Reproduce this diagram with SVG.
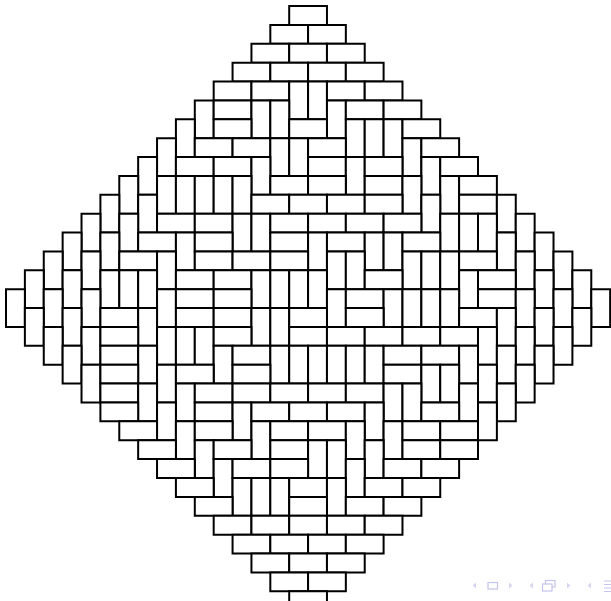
<svg xmlns="http://www.w3.org/2000/svg" xmlns:xlink="http://www.w3.org/1999/xlink" width="611" height="601" viewBox="0 0 611 601">
<defs>
<rect id="h" width="2" height="1" fill="#fff" stroke="#000" stroke-width="2" vector-effect="non-scaling-stroke"/>
<rect id="v" width="1" height="2" fill="#fff" stroke="#000" stroke-width="2" vector-effect="non-scaling-stroke"/>
</defs>
<rect width="611" height="601" fill="#fff"/>
<g id="tiling" transform="translate(6 6) scale(18.88)">
<use href="#h" x="15" y="0"/>
<use href="#h" x="14" y="1"/><use href="#h" x="16" y="1"/>
<use href="#h" x="13" y="2"/><use href="#h" x="15" y="2"/><use href="#h" x="17" y="2"/>
<use href="#h" x="12" y="3"/><use href="#h" x="14" y="3"/><use href="#h" x="16" y="3"/><use href="#h" x="18" y="3"/>
<use href="#h" x="11" y="4"/><use href="#h" x="13" y="4"/><use href="#v" x="15" y="4"/><use href="#v" x="16" y="4"/><use href="#h" x="17" y="4"/><use href="#h" x="19" y="4"/>
<use href="#v" x="10" y="5"/><use href="#h" x="11" y="5"/><use href="#v" x="13" y="5"/><use href="#v" x="14" y="5"/><use href="#v" x="17" y="5"/><use href="#h" x="18" y="5"/><use href="#h" x="20" y="5"/>
<use href="#v" x="9" y="6"/><use href="#h" x="11" y="6"/><use href="#h" x="15" y="6"/><use href="#v" x="18" y="6"/><use href="#v" x="19" y="6"/><use href="#v" x="20" y="6"/><use href="#h" x="21" y="6"/>
<use href="#v" x="8" y="7"/><use href="#h" x="10" y="7"/><use href="#h" x="12" y="7"/><use href="#v" x="14" y="7"/><use href="#v" x="15" y="7"/><use href="#h" x="16" y="7"/><use href="#v" x="21" y="7"/><use href="#h" x="22" y="7"/>
<use href="#v" x="7" y="8"/><use href="#h" x="9" y="8"/><use href="#h" x="11" y="8"/><use href="#v" x="13" y="8"/><use href="#h" x="16" y="8"/><use href="#v" x="18" y="8"/><use href="#h" x="19" y="8"/><use href="#v" x="22" y="8"/><use href="#h" x="23" y="8"/>
<use href="#v" x="6" y="9"/><use href="#v" x="8" y="9"/><use href="#v" x="9" y="9"/><use href="#v" x="10" y="9"/><use href="#v" x="11" y="9"/><use href="#v" x="12" y="9"/><use href="#h" x="14" y="9"/><use href="#h" x="16" y="9"/><use href="#h" x="19" y="9"/><use href="#v" x="21" y="9"/><use href="#v" x="23" y="9"/><use href="#h" x="24" y="9"/>
<use href="#v" x="5" y="10"/><use href="#v" x="7" y="10"/><use href="#h" x="13" y="10"/><use href="#h" x="15" y="10"/><use href="#h" x="17" y="10"/><use href="#h" x="19" y="10"/><use href="#v" x="22" y="10"/><use href="#h" x="24" y="10"/><use href="#v" x="26" y="10"/>
<use href="#v" x="4" y="11"/><use href="#v" x="6" y="11"/><use href="#h" x="8" y="11"/><use href="#h" x="10" y="11"/><use href="#v" x="12" y="11"/><use href="#v" x="13" y="11"/><use href="#h" x="14" y="11"/><use href="#h" x="16" y="11"/><use href="#h" x="18" y="11"/><use href="#h" x="20" y="11"/><use href="#v" x="23" y="11"/><use href="#v" x="24" y="11"/><use href="#v" x="25" y="11"/><use href="#v" x="27" y="11"/>
<use href="#v" x="3" y="12"/><use href="#v" x="5" y="12"/><use href="#h" x="7" y="12"/><use href="#v" x="9" y="12"/><use href="#h" x="10" y="12"/><use href="#h" x="14" y="12"/><use href="#v" x="16" y="12"/><use href="#h" x="17" y="12"/><use href="#v" x="19" y="12"/><use href="#v" x="20" y="12"/><use href="#h" x="21" y="12"/><use href="#v" x="26" y="12"/><use href="#v" x="28" y="12"/>
<use href="#v" x="2" y="13"/><use href="#v" x="4" y="13"/><use href="#h" x="6" y="13"/><use href="#v" x="8" y="13"/><use href="#h" x="10" y="13"/><use href="#h" x="12" y="13"/><use href="#h" x="14" y="13"/><use href="#v" x="17" y="13"/><use href="#v" x="18" y="13"/><use href="#v" x="21" y="13"/><use href="#v" x="22" y="13"/><use href="#v" x="23" y="13"/><use href="#h" x="24" y="13"/><use href="#v" x="27" y="13"/><use href="#v" x="29" y="13"/>
<use href="#v" x="1" y="14"/><use href="#v" x="3" y="14"/><use href="#v" x="5" y="14"/><use href="#v" x="6" y="14"/><use href="#v" x="7" y="14"/><use href="#h" x="9" y="14"/><use href="#h" x="11" y="14"/><use href="#v" x="13" y="14"/><use href="#v" x="14" y="14"/><use href="#v" x="15" y="14"/><use href="#v" x="16" y="14"/><use href="#h" x="19" y="14"/><use href="#v" x="24" y="14"/><use href="#h" x="25" y="14"/><use href="#v" x="28" y="14"/><use href="#v" x="30" y="14"/>
<use href="#v" x="0" y="15"/><use href="#v" x="2" y="15"/><use href="#v" x="4" y="15"/><use href="#v" x="8" y="15"/><use href="#h" x="9" y="15"/><use href="#h" x="11" y="15"/><use href="#v" x="17" y="15"/><use href="#h" x="18" y="15"/><use href="#v" x="20" y="15"/><use href="#v" x="21" y="15"/><use href="#v" x="22" y="15"/><use href="#v" x="23" y="15"/><use href="#h" x="25" y="15"/><use href="#v" x="27" y="15"/><use href="#v" x="29" y="15"/><use href="#v" x="31" y="15"/>
<use href="#v" x="1" y="16"/><use href="#v" x="3" y="16"/><use href="#h" x="5" y="16"/><use href="#v" x="7" y="16"/><use href="#h" x="9" y="16"/><use href="#h" x="11" y="16"/><use href="#v" x="13" y="16"/><use href="#v" x="14" y="16"/><use href="#h" x="15" y="16"/><use href="#h" x="18" y="16"/><use href="#h" x="24" y="16"/><use href="#v" x="26" y="16"/><use href="#v" x="28" y="16"/><use href="#v" x="30" y="16"/>
<use href="#v" x="2" y="17"/><use href="#v" x="4" y="17"/><use href="#h" x="5" y="17"/><use href="#v" x="8" y="17"/><use href="#v" x="9" y="17"/><use href="#v" x="10" y="17"/><use href="#h" x="11" y="17"/><use href="#h" x="15" y="17"/><use href="#h" x="17" y="17"/><use href="#h" x="19" y="17"/><use href="#h" x="21" y="17"/><use href="#h" x="23" y="17"/><use href="#v" x="25" y="17"/><use href="#v" x="27" y="17"/><use href="#v" x="29" y="17"/>
<use href="#v" x="3" y="18"/><use href="#h" x="5" y="18"/><use href="#v" x="7" y="18"/><use href="#v" x="11" y="18"/><use href="#h" x="12" y="18"/><use href="#v" x="14" y="18"/><use href="#v" x="15" y="18"/><use href="#v" x="16" y="18"/><use href="#v" x="17" y="18"/><use href="#v" x="18" y="18"/><use href="#v" x="19" y="18"/><use href="#h" x="20" y="18"/><use href="#h" x="22" y="18"/><use href="#v" x="24" y="18"/><use href="#v" x="26" y="18"/><use href="#v" x="28" y="18"/>
<use href="#v" x="4" y="19"/><use href="#h" x="5" y="19"/><use href="#v" x="8" y="19"/><use href="#h" x="9" y="19"/><use href="#h" x="12" y="19"/><use href="#h" x="20" y="19"/><use href="#v" x="22" y="19"/><use href="#v" x="23" y="19"/><use href="#v" x="25" y="19"/><use href="#v" x="27" y="19"/>
<use href="#h" x="5" y="20"/><use href="#v" x="7" y="20"/><use href="#v" x="9" y="20"/><use href="#h" x="10" y="20"/><use href="#h" x="12" y="20"/><use href="#h" x="14" y="20"/><use href="#h" x="16" y="20"/><use href="#h" x="18" y="20"/><use href="#v" x="20" y="20"/><use href="#v" x="21" y="20"/><use href="#v" x="24" y="20"/><use href="#v" x="26" y="20"/>
<use href="#h" x="5" y="21"/><use href="#v" x="8" y="21"/><use href="#h" x="10" y="21"/><use href="#v" x="12" y="21"/><use href="#h" x="13" y="21"/><use href="#h" x="15" y="21"/><use href="#h" x="17" y="21"/><use href="#v" x="19" y="21"/><use href="#h" x="22" y="21"/><use href="#v" x="25" y="21"/>
<use href="#h" x="6" y="22"/><use href="#v" x="9" y="22"/><use href="#h" x="10" y="22"/><use href="#v" x="13" y="22"/><use href="#h" x="14" y="22"/><use href="#h" x="16" y="22"/><use href="#v" x="18" y="22"/><use href="#v" x="20" y="22"/><use href="#h" x="21" y="22"/><use href="#h" x="23" y="22"/>
<use href="#h" x="7" y="23"/><use href="#v" x="10" y="23"/><use href="#h" x="11" y="23"/><use href="#h" x="14" y="23"/><use href="#v" x="16" y="23"/><use href="#v" x="17" y="23"/><use href="#v" x="19" y="23"/><use href="#h" x="21" y="23"/><use href="#h" x="23" y="23"/>
<use href="#h" x="8" y="24"/><use href="#v" x="11" y="24"/><use href="#h" x="12" y="24"/><use href="#h" x="14" y="24"/><use href="#v" x="18" y="24"/><use href="#h" x="20" y="24"/><use href="#h" x="22" y="24"/>
<use href="#h" x="9" y="25"/><use href="#v" x="12" y="25"/><use href="#v" x="13" y="25"/><use href="#v" x="14" y="25"/><use href="#h" x="15" y="25"/><use href="#v" x="17" y="25"/><use href="#h" x="19" y="25"/><use href="#h" x="21" y="25"/>
<use href="#h" x="10" y="26"/><use href="#h" x="15" y="26"/><use href="#h" x="18" y="26"/><use href="#h" x="20" y="26"/>
<use href="#h" x="11" y="27"/><use href="#h" x="13" y="27"/><use href="#h" x="15" y="27"/><use href="#h" x="17" y="27"/><use href="#h" x="19" y="27"/>
<use href="#h" x="12" y="28"/><use href="#h" x="14" y="28"/><use href="#h" x="16" y="28"/><use href="#h" x="18" y="28"/>
<use href="#h" x="13" y="29"/><use href="#h" x="15" y="29"/><use href="#h" x="17" y="29"/>
<use href="#h" x="14" y="30"/><use href="#h" x="16" y="30"/>
<use href="#h" x="15" y="31"/>
</g>
<g id="nav" fill="none" stroke="#c4c4ec" stroke-width="1.2">
<polygon points="476,582.5 476,588.5 472.5,585.5" fill="#d6d6f2" stroke="none"/>
<rect x="488" y="582.5" width="9.5" height="6.5"/>
<polygon points="509,582.5 509,588.5 512.5,585.5" fill="#d6d6f2" stroke="none"/>
<polygon points="533,582.5 533,588.5 529.5,585.5" fill="#d6d6f2" stroke="none"/>
<rect x="545.5" y="580.5" width="9.5" height="6.5"/>
<rect x="542.5" y="584" width="9.5" height="7" fill="#fff"/>
<polygon points="567,582.5 567,588.5 570.5,585.5" fill="#d6d6f2" stroke="none"/>
<polygon points="591,582.5 591,588.5 587.5,585.5" fill="#d6d6f2" stroke="none"/>
<path d="M604 581h8M604 584.5h8M604 588h8M604 591.5h8"/>
</g>
</svg>
